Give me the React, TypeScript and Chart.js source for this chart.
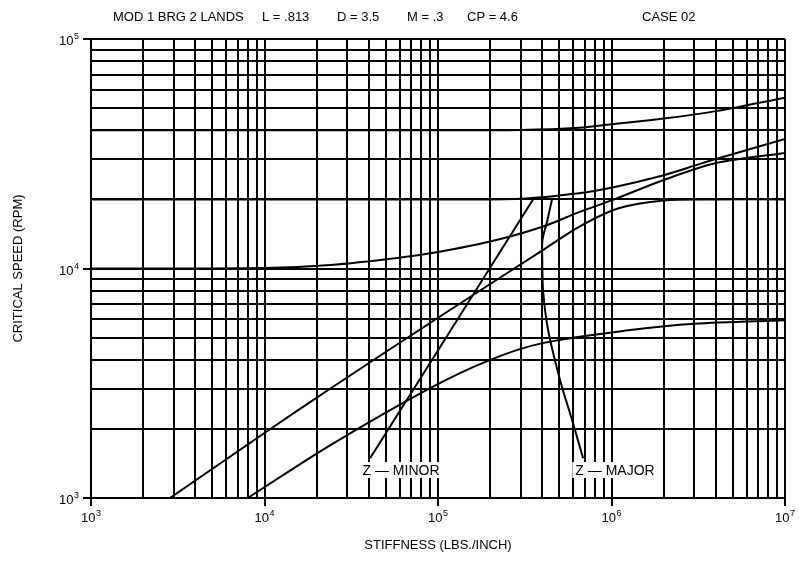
import React, { useEffect, useRef } from 'react';
import { Chart, registerables } from 'chart.js';

Chart.register(...registerables);

// ---- axis decades / grid multipliers ----
const xDecadeExps = [3, 4, 5, 6, 7];
const yDecadeExps = [3, 4, 5];
const gridMultipliers = [1, 2, 3, 4, 5, 6, 7, 8, 9];

// ---- text ----
const titleParts = ['MOD 1 BRG 2 LANDS', 'L = .813', 'D = 3.5', 'M = .3', 'CP = 4.6', 'CASE 02'];
const xAxisTitle = 'STIFFNESS (LBS./INCH)';
const yAxisTitle = 'CRITICAL SPEED (RPM)';
const zMinorLabel = 'Z — MINOR';
const zMajorLabel = 'Z — MAJOR';

// ---- series (stiffness lbs/inch, critical speed rpm) ----
const topX = [1e3, 1e5, 3e5, 6.5e5, 1e6, 2e6, 4e6, 1e7];
const topY = [40000, 40000, 40100, 41000, 42500, 45000, 48500, 55500];

const secondX = [1e3, 1e5, 3e5, 6.5e5, 1e6, 2e6, 3.2e6, 4e6, 1e7];
const secondY = [20000, 20000, 20150, 21300, 22500, 25500, 28500, 30000, 36700];

const thirdX = [1e3, 1e4, 2.4e4, 5.8e4, 1e5, 2e5, 4e5, 6.5e5, 1e6, 2e6, 4e6, 1e7];
const thirdY = [10000, 10050, 10350, 11100, 11800, 13100, 15200, 17600, 19800, 24300, 28800, 31900];

const rigidAX = [2.85e3, 1e4, 2.4e4, 1e5, 4e5, 6.5e5, 1.1e6, 2e6, 4e6, 1e7];
const rigidAY = [1000, 1920, 3000, 6100, 12000, 15200, 18300, 19800, 20000, 20000];

const rigidBX = [8e3, 2.4e4, 9e4, 2e5, 4e5, 1.28e6, 3e6, 1e7];
const rigidBY = [1000, 1700, 3010, 4000, 4730, 5390, 5750, 5950];

const zMinorX = [4.06e4, 3.53e5];
const zMinorY = [1490, 20000];

const zMajorX = [4.54e5, 4.25e5, 4.0e5, 3.99e5, 4.03e5, 4.31e5, 5.05e5, 6.0e5, 6.86e5];
const zMajorY = [20000, 16000, 13300, 10900, 8060, 5400, 3270, 2120, 1490];

const FONT = '"Liberation Sans", Arial, Helvetica, sans-serif';

function buildTicks(exps: number[]) {
  const out: number[] = [];
  for (let i = 0; i < exps.length - 1; i++) {
    for (const m of gridMultipliers) out.push(m * Math.pow(10, exps[i]));
  }
  out.push(Math.pow(10, exps[exps.length - 1]));
  return out;
}

const xTickValues = buildTicks(xDecadeExps);
const yTickValues = buildTicks(yDecadeExps);

function isDecade(v: number) {
  const l = Math.log10(v);
  return Math.abs(l - Math.round(l)) < 1e-9;
}

function series(xs: number[], ys: number[], tension: number) {
  return {
    data: xs.map((x, i) => ({ x, y: ys[i] })),
    showLine: true,
    borderColor: '#000',
    borderWidth: 2,
    pointRadius: 0,
    pointHoverRadius: 0,
    tension,
    fill: false,
  };
}

function drawPow(ctx: CanvasRenderingContext2D, exp: number, x: number, baseY: number, align: 'center' | 'right', supRaise: number) {
  ctx.textAlign = 'left';
  ctx.textBaseline = 'alphabetic';
  ctx.font = `13px ${FONT}`;
  const w1 = ctx.measureText('10').width;
  ctx.font = `9px ${FONT}`;
  const w2 = ctx.measureText(String(exp)).width;
  const total = w1 + w2 + 0.5;
  const start = align === 'center' ? x - total / 2 : x - total;
  ctx.font = `13px ${FONT}`;
  ctx.fillText('10', start, baseY);
  ctx.font = `9px ${FONT}`;
  ctx.fillText(String(exp), start + w1 + 0.5, baseY - supRaise);
}

const textPlugin = {
  id: 'criticalSpeedTexts',
  afterDatasetsDraw(chart: any) {
    const ctx: CanvasRenderingContext2D = chart.ctx;
    const xs = chart.scales.x;
    const ys = chart.scales.y;
    ctx.save();
    ctx.font = `14px ${FONT}`;
    ctx.textBaseline = 'middle';
    ctx.textAlign = 'center';
    const labels: [string, number][] = [
      [zMinorLabel, 401],
      [zMajorLabel, 615],
    ];
    const ly = ys.getPixelForValue(1000) - 28;
    for (const [t, cx] of labels) {
      const w = ctx.measureText(t).width;
      ctx.fillStyle = '#fff';
      ctx.fillRect(cx - w / 2 - 3, ly - 8, w + 6, 16);
      ctx.fillStyle = '#000';
      ctx.fillText(t, cx, ly + 1);
    }
    ctx.restore();
    void xs;
  },
  afterDraw(chart: any) {
    const ctx: CanvasRenderingContext2D = chart.ctx;
    const xs = chart.scales.x;
    const ys = chart.scales.y;
    const area = chart.chartArea;
    ctx.save();
    ctx.fillStyle = '#000';
    // tick labels
    for (const e of xDecadeExps) {
      const px = xs.getPixelForValue(Math.pow(10, e));
      drawPow(ctx, e, px, area.bottom + 24, 'center', 6);
    }
    for (const e of yDecadeExps) {
      const py = ys.getPixelForValue(Math.pow(10, e));
      drawPow(ctx, e, area.left - 12, py + 6, 'right', 6);
    }
    // title
    ctx.font = `13px ${FONT}`;
    ctx.textAlign = 'left';
    ctx.textBaseline = 'alphabetic';
    const titleXs = [113, 262, 337, 407, 467, 642];
    titleParts.forEach((t, i) => ctx.fillText(t, titleXs[i], 21));
    // axis titles
    ctx.textAlign = 'center';
    ctx.textBaseline = 'middle';
    ctx.fillText(xAxisTitle, (area.left + area.right) / 2, 545);
    ctx.save();
    ctx.translate(18, (area.top + area.bottom) / 2);
    ctx.rotate(-Math.PI / 2);
    ctx.fillText(yAxisTitle, 0, 0);
    ctx.restore();
    ctx.restore();
  },
};

export default function App() {
  const canvasRef = useRef<HTMLCanvasElement | null>(null);

  useEffect(() => {
    const canvas = canvasRef.current;
    if (!canvas) return;
    const gridCommon = {
      color: '#000',
      lineWidth: 2,
      drawTicks: true,
      tickLength: 8,
      tickWidth: 2,
      tickColor: (c: any) => (c.tick && isDecade(c.tick.value) ? '#000' : 'rgba(0,0,0,0)'),
    };
    const chart = new Chart(canvas, {
      type: 'scatter',
      data: {
        datasets: [
          series(topX, topY, 0.3),
          series(secondX, secondY, 0.3),
          series(thirdX, thirdY, 0.3),
          series(rigidAX, rigidAY, 0.3),
          series(rigidBX, rigidBY, 0.3),
          series(zMinorX, zMinorY, 0),
          series(zMajorX, zMajorY, 0.3),
        ] as any,
      },
      options: {
        animation: false,
        responsive: true,
        maintainAspectRatio: false,
        devicePixelRatio: 1,
        layout: { padding: { left: 0, right: 14, top: 39, bottom: 0 } },
        plugins: {
          legend: { display: false },
          tooltip: { enabled: false },
          title: { display: false },
        },
        events: [],
        scales: {
          x: {
            type: 'logarithmic',
            min: 1e3,
            max: 1e7,
            afterBuildTicks: (s: any) => {
              s.ticks = xTickValues.map((v) => ({ value: v }));
            },
            afterFit: (s: any) => {
              s.height = 73;
            },
            ticks: { display: false, autoSkip: false },
            grid: gridCommon as any,
            border: { display: true, color: '#000', width: 2 },
          },
          y: {
            type: 'logarithmic',
            min: 1e3,
            max: 1e5,
            afterBuildTicks: (s: any) => {
              s.ticks = yTickValues.map((v) => ({ value: v }));
            },
            afterFit: (s: any) => {
              s.width = 91;
            },
            ticks: { display: false, autoSkip: false },
            grid: gridCommon as any,
            border: { display: true, color: '#000', width: 2 },
          },
        },
      },
      plugins: [textPlugin],
    });
    return () => chart.destroy();
  }, []);

  return (
    <div style={{ position: 'fixed', left: 0, top: 0, width: 799, height: 571, background: '#fff' }}>
      <canvas ref={canvasRef} />
    </div>
  );
}
